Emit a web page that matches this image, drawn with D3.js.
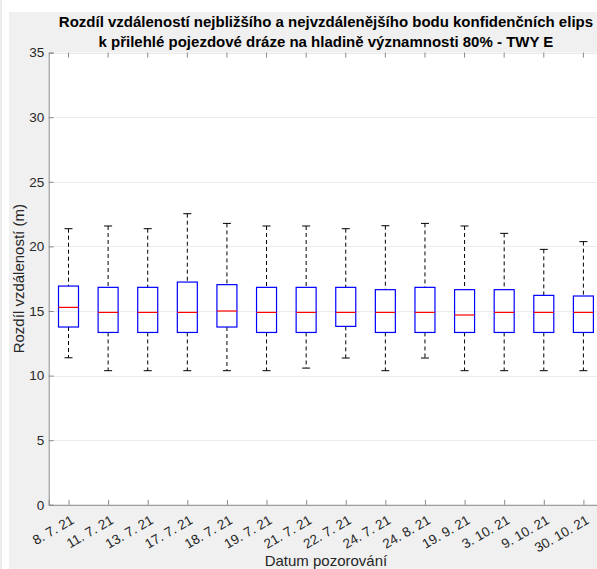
<!DOCTYPE html>
<html><head><meta charset="utf-8">
<script src="https://cdn.jsdelivr.net/npm/d3@7"></script>
<style>body{margin:0;background:#fff;overflow:hidden}svg{display:block}</style>
</head><body><svg id="c" width="597" height="569"></svg>
<script>
const categories = ["8. 7. 21","11. 7. 21","13. 7. 21","17. 7. 21","18. 7. 21","19. 7. 21","21. 7. 21","22. 7. 21","24. 7. 21","24. 8. 21","19. 9. 21","3. 10. 21","9. 10. 21","30. 10. 21"];
const whiskerLow = [11.38,10.38,10.38,10.38,10.38,10.38,10.58,11.36,10.38,11.36,10.38,10.38,10.38,10.38];
const q1 = [13.76,13.34,13.34,13.34,13.76,13.34,13.34,13.81,13.34,13.34,13.34,13.34,13.34,13.34];
const median = [15.28,14.89,14.89,14.89,15.0,14.89,14.89,14.89,14.89,14.89,14.69,14.89,14.89,14.89];
const q3 = [16.93,16.83,16.83,17.24,17.04,16.83,16.83,16.83,16.65,16.83,16.65,16.65,16.21,16.16];
const whiskerHigh = [21.37,21.58,21.37,22.53,21.78,21.58,21.58,21.37,21.6,21.78,21.58,21.01,19.77,20.37];
const yTicks = [0,5,10,15,20,25,30,35];
const titleLines = ["Rozdíl vzdáleností nejbližšího a nejvzdálenějšího bodu konfidenčních elips","k přilehlé pojezdové dráze na hladině významnosti 80% - TWY E"];
const yLabel = "Rozdíl vzdáleností (m)";
const xLabel = "Datum pozorování";

const data = categories.map((c,i)=>({c, lo:whiskerLow[i], q1:q1[i], med:median[i], q3:q3[i], hi:whiskerHigh[i]}));

const svg = d3.select("#c");
const font = "'Liberation Sans', Arial, Helvetica, sans-serif";
// figure background
svg.append("rect").attr("x",0).attr("y",0).attr("width",597).attr("height",569).attr("fill","#fff");
svg.append("line").attr("x1",1).attr("x2",1).attr("y1",0).attr("y2",569).attr("stroke","#d8d8d8");
svg.append("rect").attr("x",9).attr("y",12).attr("width",600).attr("height",600).attr("fill","#f0f0f0");

const L=48.7, R=603.2, T=52.6, B=504.8;
const x = d3.scaleLinear().domain([0.5, categories.length+0.5]).range([L,R]);
const y = d3.scaleLinear().domain([0,35]).range([B,T]);
const cx = i => x(i+1);

svg.append("rect").attr("x",L).attr("y",T).attr("width",R-L).attr("height",B-T).attr("fill","#fff");

// grid
svg.append("g").selectAll("line").data(yTicks.filter(d=>d>0)).join("line")
  .attr("x1",L).attr("x2",R).attr("y1",d=>Math.round(y(d))+0.5).attr("y2",d=>Math.round(y(d))+0.5)
  .attr("stroke","#ebebeb").attr("stroke-width",1);

// axes
const gy = svg.append("g").attr("transform",`translate(${L},0)`)
  .call(d3.axisLeft(y).tickValues(yTicks).tickSize(-5).tickPadding(4.5).tickFormat(d3.format("d")));
gy.select(".domain").attr("stroke","#8a8a8a");
gy.selectAll(".tick line").attr("stroke","#8a8a8a");
gy.selectAll("text").attr("font-family",font).attr("font-size",13.5).attr("fill","#262626");

const gx = svg.append("g").attr("transform",`translate(0,${B})`)
  .call(d3.axisBottom(x).tickValues(d3.range(1,categories.length+1)).tickSize(-5).tickFormat(""));
gx.select(".domain").attr("stroke","#8a8a8a");
gx.selectAll(".tick line").attr("stroke","#8a8a8a");
// top ticks
svg.append("g").selectAll("line").data(d3.range(1,categories.length+1)).join("line")
  .attr("x1",d=>x(d)).attr("x2",d=>x(d)).attr("y1",T).attr("y2",T+5).attr("stroke","#8a8a8a");

// x tick labels rotated
svg.append("g").selectAll("text").data(categories).join("text")
  .attr("transform",(d,i)=>`translate(${cx(i)+6.5},${B+18}) rotate(-30)`)
  .attr("text-anchor","end")
  .attr("font-family",font).attr("font-size",13.5).attr("fill","#262626").text(d=>d);

// boxes
const bw = 20, cap = 8;
const g = svg.append("g").selectAll("g").data(data).join("g");
g.append("line").attr("x1",(d,i)=>cx(i)).attr("x2",(d,i)=>cx(i)).attr("y1",d=>y(d.hi)).attr("y2",d=>y(d.q3))
  .attr("stroke","#000").attr("stroke-dasharray","4,3");
g.append("line").attr("x1",(d,i)=>cx(i)).attr("x2",(d,i)=>cx(i)).attr("y1",d=>y(d.q1)).attr("y2",d=>y(d.lo))
  .attr("stroke","#000").attr("stroke-dasharray","4,3");
g.append("line").attr("x1",(d,i)=>cx(i)-cap/2).attr("x2",(d,i)=>cx(i)+cap/2).attr("y1",d=>y(d.hi)).attr("y2",d=>y(d.hi)).attr("stroke","#000");
g.append("line").attr("x1",(d,i)=>cx(i)-cap/2).attr("x2",(d,i)=>cx(i)+cap/2).attr("y1",d=>y(d.lo)).attr("y2",d=>y(d.lo)).attr("stroke","#000");
g.append("rect").attr("x",(d,i)=>cx(i)-bw/2).attr("width",bw).attr("y",d=>y(d.q3)).attr("height",d=>y(d.q1)-y(d.q3))
  .attr("fill","none").attr("stroke","#0000ff").attr("stroke-width",1.2);
g.append("line").attr("x1",(d,i)=>cx(i)-bw/2).attr("x2",(d,i)=>cx(i)+bw/2).attr("y1",d=>y(d.med)).attr("y2",d=>y(d.med))
  .attr("stroke","#ff0000").attr("stroke-width",1.2);

// title
const tcx = (L+R)/2;
svg.append("text").attr("x",tcx).attr("y",27).attr("text-anchor","middle").attr("font-family",font)
  .attr("font-weight","bold").attr("font-size",15).attr("fill","#000").text(titleLines[0]);
svg.append("text").attr("x",tcx).attr("y",47).attr("text-anchor","middle").attr("font-family",font)
  .attr("font-weight","bold").attr("font-size",15).attr("fill","#000").text(titleLines[1]);

// axis labels
svg.append("text").attr("transform",`translate(24,${(T+B)/2}) rotate(-90)`).attr("text-anchor","middle")
  .attr("font-family",font).attr("font-size",15).attr("fill","#262626").text(yLabel);
svg.append("text").attr("x",tcx).attr("y",566).attr("text-anchor","middle")
  .attr("font-family",font).attr("font-size",15).attr("fill","#262626").text(xLabel);
</script></body></html>
